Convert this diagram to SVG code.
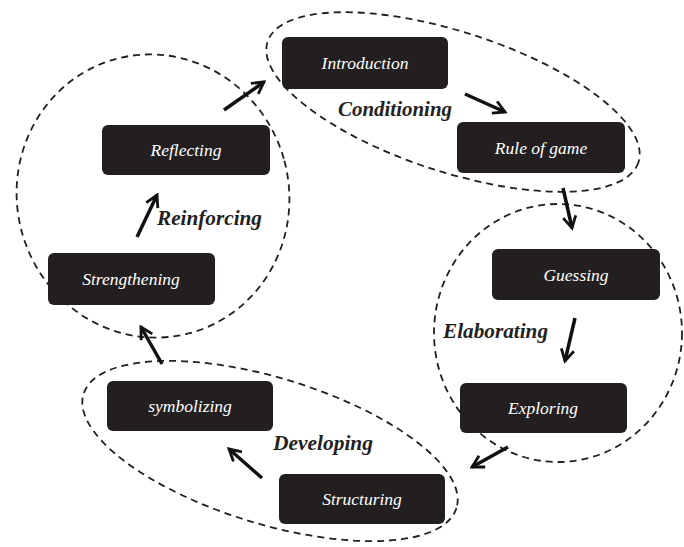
<svg xmlns="http://www.w3.org/2000/svg" width="684" height="547" viewBox="0 0 684 547">
<style>
.box{fill:#231f20}
.bt{fill:#fff;font-family:"Liberation Serif",serif;font-style:italic;font-size:17.5px;text-anchor:middle}
.lbl{fill:#231f20;font-family:"Liberation Serif",serif;font-style:italic;font-weight:bold;font-size:20px}
.ell{fill:none;stroke:#231f20;stroke-width:1.8;stroke-dasharray:7 5}
.arr{stroke:#111;stroke-width:3.5;fill:none;marker-end:url(#ah)}
</style>
<defs>
<marker id="ah" viewBox="0 0 12 12" refX="10" refY="6" markerWidth="4.4" markerHeight="4.4" orient="auto" markerUnits="strokeWidth">
<path d="M1,1 L10,6 L1,11" fill="none" stroke="#111" stroke-width="2.2"/>
</marker>
</defs>
<rect width="684" height="547" fill="#fff"/>
<g id="groups">
<ellipse class="ell" cx="453" cy="102" rx="195" ry="70" transform="rotate(18 453 102)"/>
<ellipse class="ell" cx="153" cy="196" rx="136" ry="142" transform="rotate(-15 153 196)"/>
<ellipse class="ell" cx="558" cy="333" rx="124" ry="129"/>
<ellipse class="ell" cx="270" cy="451" rx="195" ry="73" transform="rotate(17 270 451)"/>
</g>
<g id="connectors">
<line class="arr" x1="224" y1="110" x2="264" y2="82"/>
<line class="arr" x1="465" y1="94" x2="505" y2="112"/>
<line class="arr" x1="563" y1="188" x2="572" y2="228"/>
<line class="arr" x1="575" y1="318" x2="565" y2="361"/>
<line class="arr" x1="508" y1="447" x2="472" y2="467"/>
<line class="arr" x1="262" y1="478" x2="229" y2="449"/>
<line class="arr" x1="162" y1="364" x2="141" y2="327"/>
<line class="arr" x1="137" y1="237" x2="157" y2="195"/>
</g>
<g id="labels">
<text class="lbl" x="338" y="116" textLength="114" lengthAdjust="spacingAndGlyphs">Conditioning</text>
<text class="lbl" x="157" y="225" textLength="105" lengthAdjust="spacingAndGlyphs">Reinforcing</text>
<text class="lbl" x="443" y="338" textLength="105" lengthAdjust="spacingAndGlyphs">Elaborating</text>
<text class="lbl" x="273" y="450" textLength="100" lengthAdjust="spacingAndGlyphs">Developing</text>
</g>
<g id="introduction"><rect class="box" x="282" y="37" width="166" height="52" rx="6"/><text class="bt" x="365" y="69">Introduction</text></g>
<g id="rule-of-game"><rect class="box" x="457" y="122" width="168" height="51" rx="6"/><text class="bt" x="541" y="154">Rule of game</text></g>
<g id="reflecting"><rect class="box" x="102" y="125" width="168" height="50" rx="6"/><text class="bt" x="186" y="156">Reflecting</text></g>
<g id="strengthening"><rect class="box" x="48" y="253" width="167" height="52" rx="6"/><text class="bt" x="131" y="285">Strengthening</text></g>
<g id="guessing"><rect class="box" x="492" y="249" width="168" height="51" rx="6"/><text class="bt" x="576" y="281">Guessing</text></g>
<g id="exploring"><rect class="box" x="460" y="383" width="167" height="50" rx="6"/><text class="bt" x="543" y="414">Exploring</text></g>
<g id="symbolizing"><rect class="box" x="107" y="381" width="166" height="50" rx="6"/><text class="bt" x="190" y="412">symbolizing</text></g>
<g id="structuring"><rect class="box" x="279" y="474" width="166" height="50" rx="6"/><text class="bt" x="362" y="505">Structuring</text></g>
</svg>
